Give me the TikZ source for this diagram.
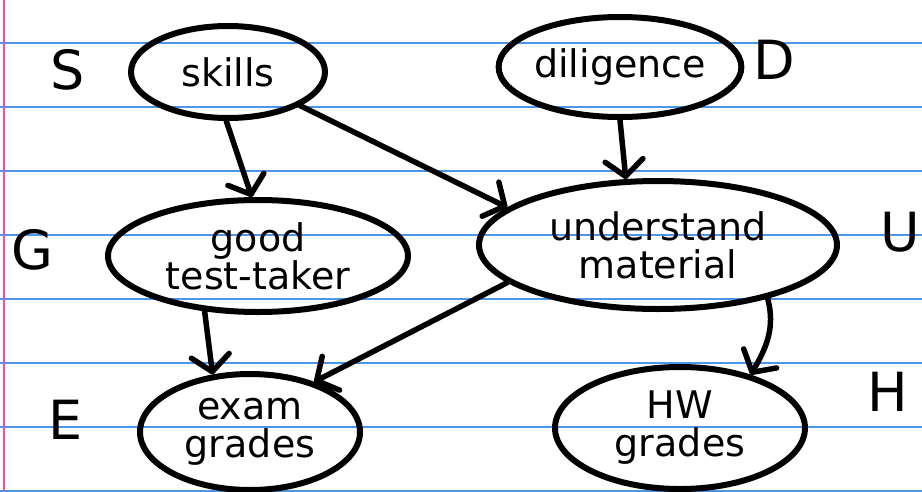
\documentclass[tikz,border=0pt]{standalone}
\usepackage{fontspec}
\setmainfont{DejaVu Sans}
\usetikzlibrary{arrows.meta,shapes.geometric}
\definecolor{ruleblue}{RGB}{74,150,232}
\definecolor{marginpink}{RGB}{240,80,175}
\begin{document}
\begin{tikzpicture}[x=1pt,y=-1pt,
  var/.style={draw,ellipse,line width=6pt,inner sep=0pt,align=center,
    font=\fontsize{38}{38}\selectfont},
  letter/.style={font=\fontsize{54}{54}\selectfont},
  edge/.style={line width=5.5pt,line cap=round,
    -{Straight Barb[length=16pt,width=38pt,line width=5.5pt,round]}}]
\useasboundingbox (0,0) rectangle (922,491);
\fill[white] (0,0) rectangle (922,491);
% ruled notebook paper
\foreach \y in {43,107,...,491}
  \draw[ruleblue,line width=2pt] (0,\y) -- (922,\y);
\draw[marginpink,line width=2pt] (3.5,0) -- (3.5,491);
% variables
\node[var,minimum width=194,minimum height=92] (skills) at (228,72) {skills};
\node[var,minimum width=232,minimum height=100] (dil) at (620,67) {diligence};
\node[var,minimum width=300,minimum height=112] (good) at (258,256) {good\\test-taker};
\node[var,minimum width=358,minimum height=128] (und) at (658,245) {understand\\material};
\node[var,minimum width=220,minimum height=116] (exam) at (250,432) {exam\\grades};
\node[var,minimum width=250,minimum height=122] (hw) at (680,428) {HW\\grades};
% variable letters
\node[letter] (S) at (68,70) {S};
\node[letter] (D) at (774,60) {D};
\node[letter] (G) at (32,250) {G};
\node[letter] (U) at (900,232) {U};
\node[letter] (E) at (66,420) {E};
\node[letter] (H) at (888,392) {H};
% dependencies
\draw[edge] (skills.-92) -- (good.96);
\draw[edge] (skills.-25) -- (und.166);
\draw[edge] (dil.-90) -- (und.116);
\draw[edge] (good.-134) -- (exam.123);
\draw[edge] (und.-166) -- (exam.38);
\draw[edge] (und.-26) to[out=-75,in=60] (hw.37);
\end{tikzpicture}
\end{document}
